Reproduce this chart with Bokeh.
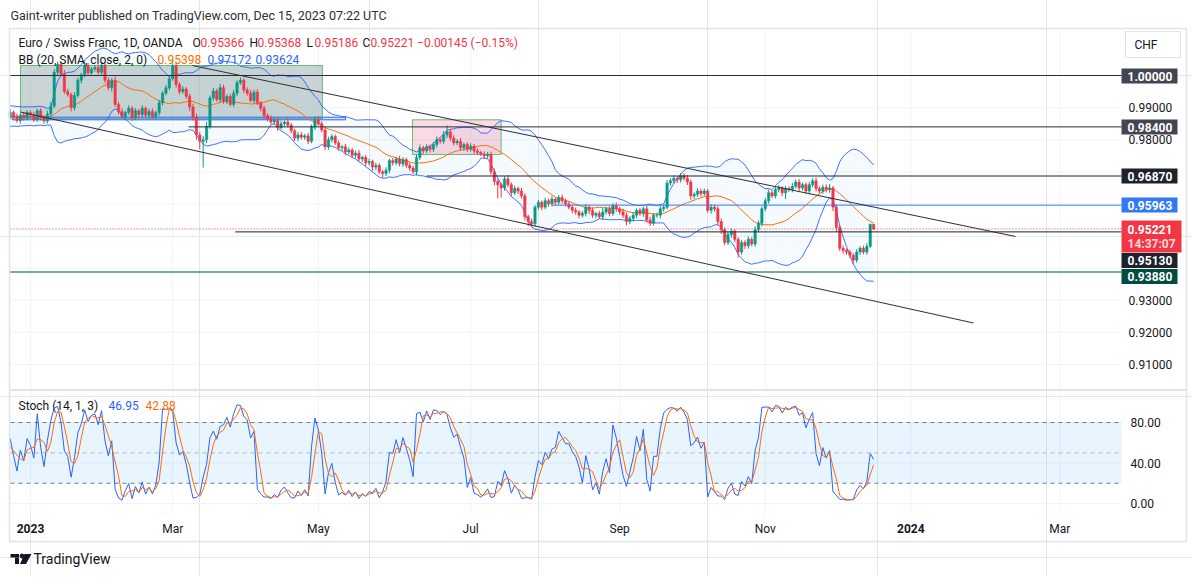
import numpy as np
import pandas as pd
from bokeh.plotting import figure
from bokeh.models import ColumnDataSource, Range1d
from bokeh.core.properties import value
from bokeh.embed import file_html
from bokeh.resources import INLINE

# EUR/CHF daily (OANDA), one close per weekday from 2022-12-05
first_day = "2022-12-05"
first_open = 0.9866
closes = [
    0.9872, 0.9880, 0.9858, 0.9865, 0.9890, 0.9905, 0.9898, 0.9876, 0.9860, 0.9852,
    0.9845, 0.9868, 0.9880, 0.9870, 0.9885, 0.9872, 0.9860, 0.9876, 0.9868, 0.9885,
    0.9878, 0.9862, 0.9890, 0.9870, 0.9858, 0.9880, 0.9905, 1.0010, 1.0035, 1.0005,
    0.9950, 0.9940, 0.9900, 0.9938, 0.9985, 1.0002, 1.0030, 1.0008, 1.0020, 1.0025,
    1.0010, 1.0032, 0.9985, 0.9962, 0.9985, 0.9910, 0.9888, 0.9872, 0.9885, 0.9898,
    0.9868, 0.9890, 0.9878, 0.9898, 0.9876, 0.9888, 0.9872, 0.9884, 0.9915, 0.9945,
    0.9962, 0.9990, 1.0030, 0.9972, 0.9950, 0.9958, 0.9935, 0.9902, 0.9870, 0.9815,
    0.9795, 0.9800, 0.9842, 0.9930, 0.9952, 0.9925, 0.9962, 0.9920, 0.9935, 0.9910,
    0.9945, 0.9978, 0.9985, 0.9955, 0.9945, 0.9922, 0.9948, 0.9915, 0.9898, 0.9875,
    0.9866, 0.9855, 0.9860, 0.9838, 0.9850, 0.9855, 0.9845, 0.9828, 0.9805, 0.9815,
    0.9808, 0.9812, 0.9795, 0.9840, 0.9862, 0.9850, 0.9830, 0.9778, 0.9800, 0.9810,
    0.9790, 0.9775, 0.9778, 0.9762, 0.9768, 0.9752, 0.9758, 0.9740, 0.9745, 0.9728,
    0.9732, 0.9715, 0.9720, 0.9700, 0.9695, 0.9705, 0.9735, 0.9728, 0.9740, 0.9725,
    0.9738, 0.9720, 0.9712, 0.9700, 0.9745, 0.9775, 0.9765, 0.9778, 0.9770, 0.9785,
    0.9800, 0.9795, 0.9815, 0.9825, 0.9805, 0.9790, 0.9795, 0.9775, 0.9785, 0.9770,
    0.9780, 0.9765, 0.9760, 0.9755, 0.9750, 0.9755, 0.9700, 0.9670, 0.9660, 0.9650,
    0.9678, 0.9660, 0.9635, 0.9648, 0.9640, 0.9625, 0.9560, 0.9545, 0.9538, 0.9590,
    0.9605, 0.9590, 0.9610, 0.9600, 0.9615, 0.9605, 0.9620, 0.9610, 0.9600, 0.9590,
    0.9580, 0.9575, 0.9565, 0.9570, 0.9590, 0.9580, 0.9565, 0.9570, 0.9560, 0.9575,
    0.9585, 0.9570, 0.9595, 0.9585, 0.9575, 0.9565, 0.9545, 0.9555, 0.9565, 0.9580,
    0.9570, 0.9585, 0.9550, 0.9540, 0.9565, 0.9565, 0.9585, 0.9590, 0.9665, 0.9672,
    0.9680, 0.9675, 0.9688, 0.9680, 0.9668, 0.9625, 0.9630, 0.9640, 0.9632, 0.9640,
    0.9580, 0.9590, 0.9585, 0.9545, 0.9520, 0.9480, 0.9505, 0.9515, 0.9490, 0.9450,
    0.9480, 0.9470, 0.9490, 0.9475, 0.9520, 0.9540, 0.9585, 0.9610, 0.9635, 0.9625,
    0.9645, 0.9650, 0.9635, 0.9648, 0.9645, 0.9655, 0.9668, 0.9650, 0.9660, 0.9640,
    0.9660, 0.9672, 0.9648, 0.9640, 0.9652, 0.9645, 0.9650, 0.9590, 0.9527, 0.9462,
    0.9455, 0.9450, 0.9440, 0.9425, 0.9450, 0.9462, 0.9450, 0.9468, 0.95366, 0.95221,
]
# wick lengths in pips above / below the candle body
up_wick = [
    8, 6, 10, 7, 9, 5, 8, 12, 6, 7,
    9, 6, 8, 7, 10, 6, 9, 5, 8, 7,
    6, 9, 7, 8, 5, 10, 12, 10, 8, 6,
    12, 9, 7, 10, 8, 6, 15, 9, 7, 8,
    10, 12, 6, 9, 7, 11, 8, 10, 6, 9,
    7, 8, 6, 9, 5, 8, 10, 7, 9, 6,
    8, 9, 17, 10, 7, 9, 6, 8, 10, 12,
    9, 11, 14, 8, 10, 7, 12, 9, 6, 8,
    10, 7, 9, 6, 8, 11, 7, 9, 5, 8,
    7, 10, 6, 8, 9, 5, 12, 7, 6, 9,
    8, 6, 9, 7, 10, 12, 8, 6, 9, 7,
    6, 8, 5, 9, 7, 6, 8, 10, 5, 7,
    9, 6, 8, 7, 5, 9, 6, 8, 7, 10,
    8, 6, 9, 7, 8, 10, 6, 9, 7, 8,
    10, 7, 12, 19, 8, 9, 7, 10, 6, 8,
    9, 7, 8, 6, 9, 7, 8, 10, 6, 7,
    8, 12, 7, 9, 6, 10, 8, 6, 9, 7,
    8, 6, 9, 7, 10, 5, 8, 9, 6, 8,
    7, 9, 6, 8, 10, 7, 9, 5, 8, 12,
    6, 8, 7, 9, 6, 10, 8, 7, 9, 6,
    8, 7, 9, 10, 6, 8, 9, 7, 10, 8,
    9, 6, 8, 7, 10, 8, 6, 9, 7, 8,
    6, 9, 7, 8, 10, 6, 8, 9, 7, 6,
    8, 7, 9, 6, 10, 8, 7, 9, 10, 8,
    7, 9, 6, 8, 7, 10, 8, 9, 6, 7,
    9, 8, 10, 7, 8, 9, 12, 6, 8, 7,
    9, 6, 8, 7, 9, 6, 8, 10, 2, 0,
]
dn_wick = [
    7, 9, 6, 8, 10, 7, 9, 6, 8, 7,
    8, 10, 7, 9, 6, 8, 7, 10, 9, 8,
    9, 7, 6, 10, 8, 7, 9, 8, 10, 7,
    8, 6, 12, 9, 7, 10, 8, 9, 6, 8,
    7, 10, 9, 8, 12, 7, 9, 6, 10, 8,
    9, 7, 10, 8, 6, 9, 7, 8, 10, 9,
    7, 8, 6, 10, 9, 7, 8, 12, 10, 15,
    25, 82, 10, 8, 9, 7, 10, 8, 9, 6,
    8, 9, 7, 10, 8, 6, 9, 7, 10, 8,
    9, 7, 8, 10, 6, 9, 7, 8, 9, 10,
    7, 8, 9, 6, 10, 8, 7, 10, 9, 8,
    7, 9, 8, 10, 6, 9, 8, 7, 9, 10,
    8, 12, 9, 7, 13, 8, 10, 9, 7, 8,
    10, 8, 9, 7, 12, 8, 9, 7, 10, 8,
    9, 7, 8, 10, 9, 8, 7, 9, 10, 8,
    7, 9, 8, 6, 10, 8, 9, 12, 43, 30,
    9, 8, 10, 7, 9, 8, 12, 14, 10, 9,
    8, 10, 7, 9, 8, 10, 7, 9, 8, 7,
    9, 8, 10, 7, 9, 12, 8, 9, 7, 10,
    8, 9, 7, 10, 8, 9, 12, 8, 10, 9,
    7, 10, 8, 9, 7, 8, 10, 9, 7, 8,
    9, 10, 8, 7, 9, 12, 10, 8, 9, 7,
    8, 10, 9, 12, 14, 9, 8, 10, 9, 17,
    8, 10, 9, 7, 8, 9, 10, 8, 9, 7,
    8, 9, 10, 20, 8, 9, 7, 10, 8, 9,
    10, 8, 9, 7, 8, 9, 10, 12, 14, 9,
    10, 8, 9, 11, 8, 9, 7, 8, 5, 3.5,
]

# drawings (bar index 0 = 2023-01-02)
levels = [1.0, 0.984, 0.9687, 0.95963, 0.9513, 0.9388]
level_start = [-6.0, 46.7, 117.0, 154.0, 60.5, -6.0]
level_color = ["#2a2e39", "#2a2e39", "#1e222d", "#3179f5", "#1e222d", "#004d40"]
channel_top = [(47.8, 1.00311), (290.9, 0.94986)]
channel_bot = [(-2.95, 0.98863), (278.5, 0.92292)]
zone_grey = (-2.95, 86.2, 0.98652, 1.00311)
zone_pink = (112.8, 139.0, 0.97540, 0.98620)
zone_blue = (-5.4, 93.0, 0.98620, 0.98701)
last_price = 0.95221
first_shown = -6                # first bar on screen (2022-12-23)

price_ticks = [0.91, 0.92, 0.93, 0.94, 0.95, 0.96, 0.97, 0.98, 0.99, 1.00]
stoch_ticks = [0, 40, 80]
time_months = ["2023-01", "2023-03", "2023-05", "2023-07", "2023-09", "2023-11", "2024-01", "2024-03"]
time_labels = ["2023", "Mar", "May", "Jul", "Sep", "Nov", "2024", "Mar"]

UP, DOWN = "#089981", "#f23645"
BLUE, ORANGE = "#2962ff", "#ff6d00"
INK = "#131722"
FONT = value("Roboto")
W, H = 1192, 575
ORG = 0.0                       # page px of the canvas corner
BAR_PX, BAR0 = 3.386, 30.0     # page px per bar, page x of 2023-01-02
P_PX = 3211.0                   # page px per 1.0 of price, 1.00000 sits at y=75


def bx(px):
    return (px - BAR0) / BAR_PX


def by(py):
    return 1.0 - (py - 75.0) / P_PX


def sy(py):
    return 80.0 - (py - 422.0) * 80.0 / 81.0


# series + indicators
c = np.array(closes)
o = np.r_[first_open, c[:-1]]
h = np.maximum(o, c) + np.array(up_wick) * 1e-4
l = np.minimum(o, c) - np.array(dn_wick) * 1e-4
all_days = pd.bdate_range(first_day, "2024-04-30")
offset = all_days.get_loc(pd.Timestamp("2023-01-02"))
x = np.arange(len(c)) - offset

s = pd.Series(c)
basis = s.rolling(20, min_periods=1).mean()
dev = s.rolling(20, min_periods=1).std(ddof=0)
upper, lower = basis + 2 * dev, basis - 2 * dev
hh = pd.Series(h).rolling(14, min_periods=1).max()
ll = pd.Series(l).rolling(14, min_periods=1).min()
k = 100 * (s - ll) / (hh - ll)
d = k.rolling(3, min_periods=1).mean()

vis = x >= first_shown
xs = x[vis]

tick_x = [all_days[all_days >= pd.Timestamp(m + "-01")][0] for m in time_months]
tick_x = [all_days.get_loc(t) - offset for t in tick_x]

p = figure(width=W, height=H, title=None, output_backend="svg", toolbar_location=None,
           x_range=Range1d(bx(ORG), bx(ORG + W)), y_range=Range1d(by(ORG + H), by(ORG)),
           x_axis_location=None, y_axis_location=None, min_border=0)
p.extra_y_ranges = {"st": Range1d(sy(ORG + H), sy(ORG))}
p.outline_line_color = None
p.background_fill_color = "white"
p.border_fill_color = "white"


def label(px, py, txt, color=INK, size="12px", style="normal", align="left"):
    p.text(x=[bx(px)], y=[by(py)], text=[txt], text_color=color, text_font=FONT,
           text_font_size=size, text_font_style=style, text_align=align,
           text_baseline="middle")


# grid
p.segment(x0=tick_x, y0=by(31), x1=tick_x, y1=by(513), color="#f0f3fa", line_width=1)
p.segment(x0=bx(10), y0=price_ticks, x1=bx(1121), y1=price_ticks, color="#f0f3fa", line_width=1)
p.segment(x0=bx(10), y0=stoch_ticks, x1=bx(1121), y1=stoch_ticks, color="#f0f3fa",
          line_width=1, y_range_name="st")

# bollinger fill and zones
p.varea(x=xs, y1=lower[vis], y2=upper[vis], fill_color="#2196f3", fill_alpha=0.05)
p.quad(left=zone_grey[0], right=zone_grey[1], bottom=zone_grey[2], top=zone_grey[3],
       fill_color="#9eb0b0", fill_alpha=0.55, line_color="#4caf50", line_alpha=0.8)
p.quad(left=zone_pink[0], right=zone_pink[1], bottom=zone_pink[2], top=zone_pink[3],
       fill_color="#d81b60", fill_alpha=0.16, line_color="#4caf50", line_alpha=0.8)
p.quad(left=zone_blue[0], right=zone_blue[1], bottom=zone_blue[2], top=zone_blue[3],
       fill_color="#2962ff", fill_alpha=0.15, line_color=BLUE, line_width=1)

p.line(xs, basis[vis], color=ORANGE, line_width=1)
p.line(xs, upper[vis], color=BLUE, line_width=1, line_alpha=0.9)
p.line(xs, lower[vis], color=BLUE, line_width=1, line_alpha=0.9)

# candles
cols = np.where(c >= o, UP, DOWN)
src = ColumnDataSource(dict(x=xs, h=h[vis], l=l[vis], top=np.maximum(o, c)[vis],
                            bot=np.minimum(o, c)[vis], col=cols[vis]))
p.segment("x", "h", "x", "l", color="col", line_width=1, source=src)
p.vbar(x="x", width=0.7, top="top", bottom="bot", fill_color="col", line_color="col",
       line_width=0.5, source=src)

# horizontal levels and channel
p.segment(x0=level_start, y0=levels, x1=[bx(1121)] * len(levels), y1=levels,
          color=level_color, line_width=1)
for a, b in (channel_top, channel_bot):
    p.line([a[0], b[0]], [a[1], b[1]], color="#2a2e39", line_width=1)
p.line([bx(10), bx(1121)], [last_price, last_price], color=DOWN, line_dash="1 2", line_width=1)

# stochastic pane
p.segment(x0=bx(9), y0=by(389.5), x1=bx(1186), y1=by(389.5), color="#e0e3eb", line_width=2)
p.quad(left=bx(10), right=bx(1121), bottom=20, top=80, fill_color="#2196f3", fill_alpha=0.1,
       line_color=None, y_range_name="st")
p.segment(x0=bx(10), y0=[20, 80], x1=bx(1121), y1=[20, 80], color="#787b86",
          line_dash="4 4", line_width=1, y_range_name="st")
p.segment(x0=bx(10), y0=50, x1=bx(1121), y1=50, color="#b2b5be", line_dash="4 4",
          line_width=1, y_range_name="st")
p.line(xs, k[vis], color=BLUE, line_width=1, y_range_name="st")
p.line(xs, d[vis], color=ORANGE, line_width=1, y_range_name="st")

# outer frame
p.quad(left=bx(9), right=bx(1186), bottom=by(541), top=by(28), fill_color=None,
       line_color="#e0e3eb", line_width=1.5)

# legends
label(10, 15, "Gaint-writer published on TradingView.com, Dec 15, 2023 07:22 UTC",
      color="#2a2e39", size="12.5px")
label(18, 42, "Euro / Swiss Franc, 1D, OANDA")
for px, ch, val in ((192, "O", "0.95366"), (249, "H", "0.95368"), (306, "L", "0.95186"),
                    (362, "C", "0.95221  −0.00145 (−0.15%)")):
    label(px, 42, ch)
    label(px + 8, 42, val, color=DOWN)
label(18, 59, "BB (20, SMA, close, 2, 0)")
label(157, 59, "0.95398", color=ORANGE)
label(207, 59, "0.97172", color=BLUE)
label(255, 59, "0.93624", color=BLUE)
label(18, 405, "Stoch (14, 1, 3)")
label(108, 405, "46.95", color=BLUE)
label(145, 405, "42.88", color=ORANGE)

# price scale
box_centers = [75.5, 126.5, 175.5, 204.5, 260.0, 276.0]
box_fills = ["#434651", "#434651", "#1e222d", "#3179f5", "#1e222d", "#004d40"]
taken = box_centers + [228.0, 243.0]
for t in price_ticks:
    ty = 75.0 + (1.0 - t) * P_PX
    if min(abs(ty - q) for q in taken) > 10:
        label(1128, ty, f"{t:.5f}")
for lv, cy, fc in zip(levels, box_centers, box_fills):
    p.quad(left=bx(1121), right=bx(1177), bottom=by(cy + 7.5), top=by(cy - 7.5),
           fill_color=fc, line_color=None)
    label(1127, cy, f"{lv:.5f}", color="white", style="bold")
p.quad(left=bx(1121), right=bx(1181), bottom=by(252), top=by(220), fill_color=DOWN, line_color=None)
label(1127, 228.5, f"{last_price:.5f}", color="white", style="bold")
label(1127, 243, "14:37:07", color="#ffd9dc", style="bold")
for t in stoch_ticks:
    ty = 422.0 + (80 - t) * 81.0 / 80.0
    label(1130, ty, f"{t:.2f}")

p.quad(left=bx(1125), right=bx(1180), bottom=by(57), top=by(31), fill_color="white",
       line_color="#e0e3eb")
label(1134, 44.5, "CHF")

# time axis
for tx, tl in zip(tick_x, time_labels):
    p.text(x=[tx], y=[by(528)], text=[tl], text_color=INK, text_font=FONT,
           text_font_size="12px", text_align="center", text_baseline="middle",
           text_font_style="bold" if tl.isdigit() else "normal")

# TradingView mark
p.quad(left=[bx(10), bx(14.5)], right=[bx(18.5), bx(18.5)], bottom=[by(557), by(563.5)],
       top=[by(553.5), by(557)], fill_color=INK, line_color=None)
p.scatter([bx(21.5)], [by(555.5)], size=4, color=INK)
p.patch([bx(24), bx(31), bx(25.5), bx(19.5)], [by(553.5), by(553.5), by(563.5), by(563.5)],
        fill_color=INK, line_color=None)
label(33, 558.5, "TradingView", size="14px")

open("out.html", "w").write(file_html(p, INLINE))
